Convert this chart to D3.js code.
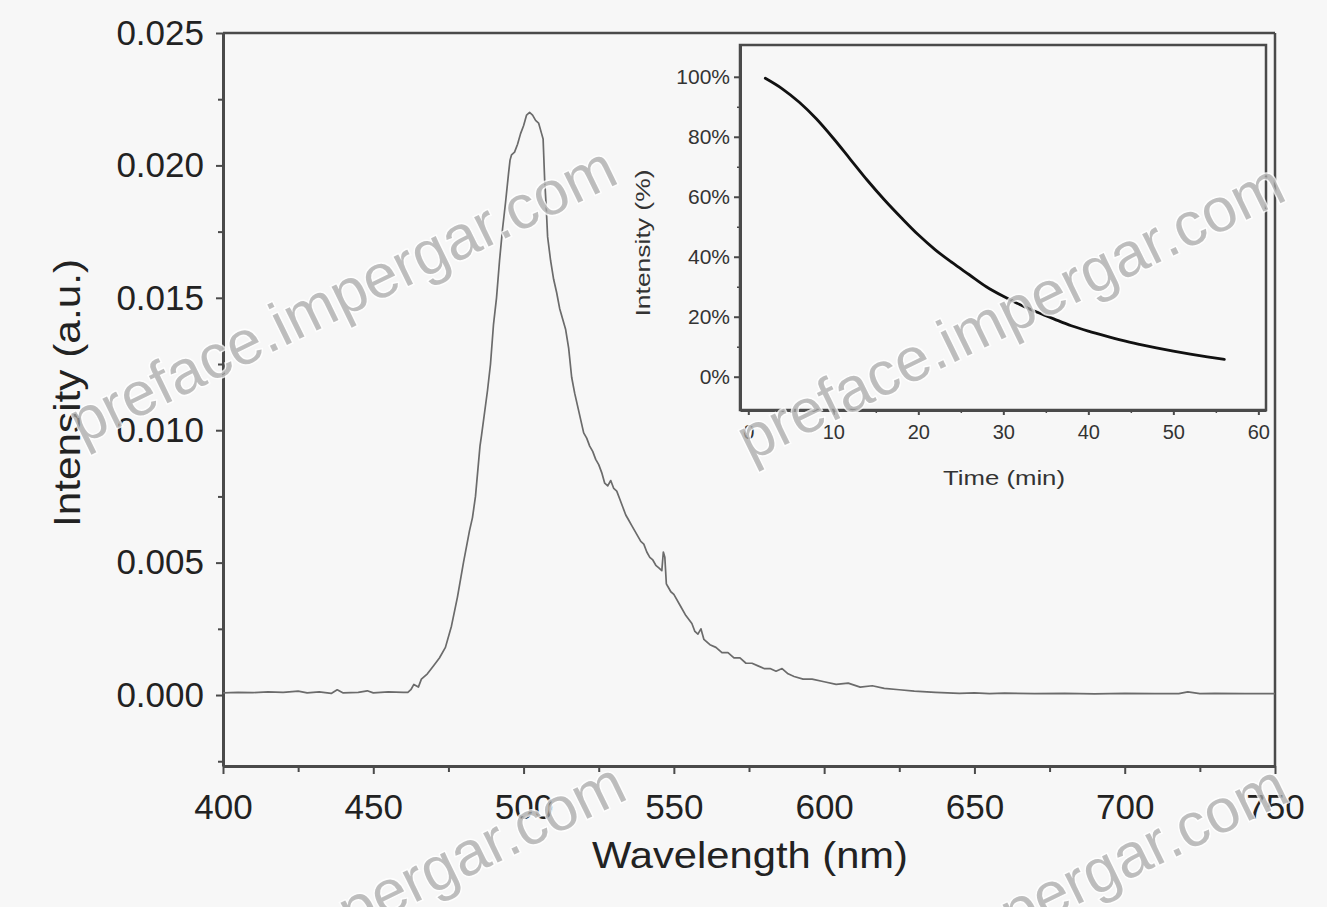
<!DOCTYPE html>
<html>
<head>
<meta charset="utf-8">
<script src="https://cdn.jsdelivr.net/npm/d3@7"></script>
<style>
  html, body { margin: 0; padding: 0; background: #f7f7f7; }
  svg { display: block; font-family: "Liberation Sans", Arial, sans-serif; }
</style>
</head>
<body>
<svg id="chart" width="1327" height="907"></svg>
<script>
// ---------- data ----------
const wavelength = [
  400,405,410,415,420,425,428,432,436,438,440,445,448,450,455,460,461.5,
  462.5,463.5,465,466,468,470,472,474,476,478,480,482,483,484,485.5,486,488,489,
  490,491,492,493,494,495,495.5,496,497,498,499,500,501,502,503,504,505,506,506.5,
  507,507.5,508,509,510,511,512,513,514,515,516,517,518,519,520,521,522,523,524,
  525,526,527,528,529,530,531,532,533,534,535,536,537,538,539,540,541,542,543,544,
  545,546,546.5,547,547.5,548,549,550,552,554,556,557,558,559,560,562,564,566,568,
  570,572,574,576,578,580,582,584,586,588,590,593,596,600,604,608,612,616,620,625,
  630,637,645,650,655,660,670,680,690,700,710,718,721,725,730,740,750
];
const intensity = [
  0.00008,0.0001,0.00009,0.00012,0.0001,0.00015,0.00008,0.00012,0.00006,0.0002,0.00008,0.0001,0.00016,0.00008,0.00012,0.0001,0.0001,
  0.0002,0.0004,0.0003,0.0006,0.0008,0.0011,0.0014,0.0018,0.0026,0.0037,0.0050,0.0062,0.0067,0.0075,0.0094,0.0098,0.0115,0.0125,
  0.0140,0.0150,0.0164,0.0176,0.0186,0.0197,0.0202,0.0204,0.0205,0.0208,0.0212,0.0215,0.0219,0.0220,0.0219,0.0217,0.0216,0.0212,0.0210,
  0.0195,0.0185,0.0173,0.0164,0.0157,0.0152,0.0146,0.0142,0.0138,0.0131,0.0120,0.0114,0.0109,0.0104,0.0099,0.0097,0.0094,0.0092,0.0089,
  0.0087,0.0084,0.0080,0.0079,0.0081,0.0078,0.0077,0.0074,0.0071,0.0068,0.0066,0.0064,0.0062,0.0060,0.0058,0.0057,0.0054,0.0052,0.0051,0.0049,
  0.0048,0.0047,0.0054,0.0052,0.0042,0.0041,0.0039,0.0038,0.0034,0.0030,0.0027,0.0024,0.0023,0.0025,0.0021,0.0019,0.0018,0.0016,0.0016,
  0.0014,0.0014,0.0012,0.0012,0.0011,0.0010,0.0010,0.0009,0.0010,0.0008,0.0007,0.0006,0.0006,0.0005,0.0004,0.00045,0.0003,0.00035,0.00025,0.0002,
  0.00015,0.0001,0.00006,0.00008,0.00005,0.00007,0.00005,0.00006,0.00004,0.00006,0.00005,0.00005,0.00012,0.00005,0.00006,0.00005,0.00005
];
const xTicks = [400, 450, 500, 550, 600, 650, 700, 750];
const xMinorTicks = [425, 475, 525, 575, 625, 675, 725];
const yTicks = [0, 0.005, 0.010, 0.015, 0.020, 0.025];
const yMinorTicks = [-0.0025, 0.0025, 0.0075, 0.0125, 0.0175, 0.0225];

const timeMin = [2,4,6,8,10,12,14,16,18,20,22,24,26,28,30,32,34,36,38,40,42,44,46,48,50,52,54,56];
const decayPct = [99.5,96,91.5,86,79.5,72.5,65.5,59,53,47.3,42.3,38,34,30,26.8,24,21.5,19.2,17,15.2,13.6,12.1,10.8,9.6,8.5,7.5,6.6,5.8];
const insetXTicks = [0, 10, 20, 30, 40, 50, 60];
const insetXMinor = [5, 15, 25, 35, 45, 55];
const insetYTicks = [0, 20, 40, 60, 80, 100];
const insetYMinor = [10, 30, 50, 70, 90];

const xTitle = "Wavelength (nm)";
const yTitle = "Intensity (a.u.)";
const insetXTitle = "Time (min)";
const insetYTitle = "Intensity (%)";
const watermark = "preface.impergar.com";

// ---------- drawing ----------
const svg = d3.select("#chart");
svg.append("rect").attr("width", 1327).attr("height", 907).attr("fill", "#f7f7f7");

const axisColor = "#4a4a4a";
const textColor = "#222";

// main scales
const x = d3.scaleLinear().domain([400, 750]).range([223, 1275]);
const y = d3.scaleLinear().domain([-0.00268, 0.025]).range([766, 33]);

// frame top/right
svg.append("line").attr("x1", x(400)).attr("x2", x(750)).attr("y1", y(0.025)).attr("y2", y(0.025))
  .attr("stroke", axisColor).attr("stroke-width", 2.5);
svg.append("line").attr("x1", x(750)).attr("x2", x(750)).attr("y1", y(0.025)).attr("y2", y(-0.00268))
  .attr("stroke", axisColor).attr("stroke-width", 2.5);

function styleAxis(g, fontSize) {
  g.select(".domain").attr("stroke", axisColor).attr("stroke-width", 3);
  g.selectAll(".tick line").attr("stroke", axisColor).attr("stroke-width", 2);
  g.selectAll(".tick text").attr("fill", textColor).style("font-size", fontSize + "px");
}

// minor ticks (main)
svg.append("g").attr("transform", `translate(0,${y.range()[0]})`)
  .call(d3.axisBottom(x).tickValues(xMinorTicks).tickSize(6).tickFormat(""))
  .call(g => { g.select(".domain").remove(); g.selectAll(".tick line").attr("stroke", axisColor).attr("stroke-width", 2); });
svg.append("g").attr("transform", `translate(${x.range()[0]},0)`)
  .call(d3.axisLeft(y).tickValues(yMinorTicks).tickSize(5).tickFormat(""))
  .call(g => { g.select(".domain").remove(); g.selectAll(".tick line").attr("stroke", axisColor).attr("stroke-width", 2); });

// main axes
svg.append("g").attr("transform", `translate(0,${y.range()[0]})`)
  .call(d3.axisBottom(x).tickValues(xTicks).tickSize(8).tickPadding(20).tickSizeOuter(0).tickFormat(d3.format("d")))
  .call(g => styleAxis(g, 35));
svg.append("g").attr("transform", `translate(${x.range()[0]},0)`)
  .call(d3.axisLeft(y).tickValues(yTicks).tickSize(7).tickPadding(12).tickSizeOuter(0).tickFormat(d3.format(".3f")))
  .call(g => styleAxis(g, 35));

// spectrum
const spectrum = wavelength.map((w, i) => [w, intensity[i]]);
svg.append("path").datum(spectrum)
  .attr("fill", "none").attr("stroke", "#6b6b6b").attr("stroke-width", 1.7)
  .attr("stroke-linejoin", "round")
  .attr("d", d3.line().x(d => x(d[0])).y(d => y(d[1])));

// titles
svg.append("text").attr("x", 750).attr("y", 868).attr("text-anchor", "middle")
  .attr("fill", textColor).style("font-size", "37px")
  .attr("textLength", 316).attr("lengthAdjust", "spacingAndGlyphs").text(xTitle);
svg.append("text").attr("transform", "translate(80,393) rotate(-90)").attr("text-anchor", "middle")
  .attr("fill", textColor).style("font-size", "37px")
  .attr("textLength", 268).attr("lengthAdjust", "spacingAndGlyphs").text(yTitle);

// ---------- inset ----------
const ix = d3.scaleLinear().domain([-0.976, 60.9]).range([740, 1266]);
const iy = d3.scaleLinear().domain([-11.1, 110.6]).range([410, 45]);

svg.append("rect").attr("x", ix.range()[0]).attr("y", iy.range()[1])
  .attr("width", ix.range()[1] - ix.range()[0]).attr("height", iy.range()[0] - iy.range()[1])
  .attr("fill", "#f7f7f7").attr("stroke", axisColor).attr("stroke-width", 2.5);

svg.append("g").attr("transform", `translate(0,${iy.range()[0]})`)
  .call(d3.axisBottom(ix).tickValues(insetXMinor).tickSize(3).tickFormat(""))
  .call(g => { g.select(".domain").remove(); g.selectAll(".tick line").attr("stroke", axisColor).attr("stroke-width", 1.5); });
svg.append("g").attr("transform", `translate(${ix.range()[0]},0)`)
  .call(d3.axisLeft(iy).tickValues(insetYMinor).tickSize(3).tickFormat(""))
  .call(g => { g.select(".domain").remove(); g.selectAll(".tick line").attr("stroke", axisColor).attr("stroke-width", 1.5); });

svg.append("g").attr("transform", `translate(0,${iy.range()[0]})`)
  .call(d3.axisBottom(ix).tickValues(insetXTicks).tickSize(5).tickPadding(10).tickSizeOuter(0).tickFormat(d3.format("d")))
  .call(g => { styleAxis(g, 20); g.select(".domain").attr("stroke-width", 3); g.selectAll(".tick text").attr("fill", "#333"); });
svg.append("g").attr("transform", `translate(${ix.range()[0]},0)`)
  .call(d3.axisLeft(iy).tickValues(insetYTicks).tickSize(6).tickPadding(4).tickSizeOuter(0).tickFormat(d => d + "%"))
  .call(g => { styleAxis(g, 21); g.select(".domain").attr("stroke-width", 3); g.selectAll(".tick text").attr("fill", "#333"); });

const decay = timeMin.map((t, i) => [t, decayPct[i]]);
svg.append("path").datum(decay)
  .attr("fill", "none").attr("stroke", "#111").attr("stroke-width", 2.8)
  .attr("stroke-linecap", "round")
  .attr("d", d3.line().curve(d3.curveMonotoneX).x(d => ix(d[0])).y(d => iy(d[1])));

svg.append("text").attr("x", 1004).attr("y", 485).attr("text-anchor", "middle")
  .attr("fill", "#333").style("font-size", "21px")
  .attr("textLength", 122).attr("lengthAdjust", "spacingAndGlyphs").text(insetXTitle);
svg.append("text").attr("transform", "translate(650,243) rotate(-90)").attr("text-anchor", "middle")
  .attr("fill", "#333").style("font-size", "20px")
  .attr("textLength", 147).attr("lengthAdjust", "spacingAndGlyphs").text(insetYTitle);

// ---------- watermarks ----------
const wm = [
  { x: 82, y: 445, anchor: "start" },
  { x: 750, y: 462, anchor: "start" },
  { x: 630, y: 798, anchor: "end" },
  { x: 1292, y: 800, anchor: "end" }
];
svg.append("g").selectAll("text").data(wm).join("text")
  .attr("transform", d => `translate(${d.x},${d.y}) rotate(-26)`)
  .attr("text-anchor", d => d.anchor)
  .style("font-size", "62px")
  .attr("fill", "#a8a8a8").attr("fill-opacity", 0.75)
  .attr("stroke", "#ffffff").attr("stroke-width", 3).attr("stroke-opacity", 0.8)
  .style("paint-order", "stroke")
  .text(watermark);
</script>
</body>
</html>
